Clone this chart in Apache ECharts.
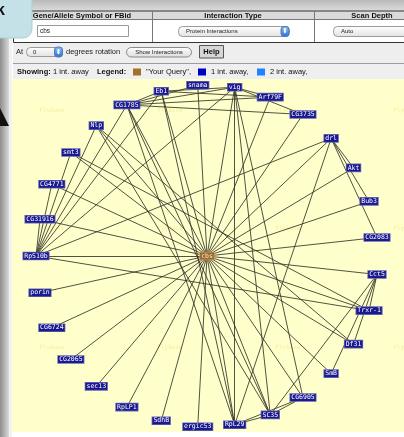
<!DOCTYPE html>
<html>
<head>
<meta charset="utf-8">
<script src="https://cdn.jsdelivr.net/npm/echarts@6/dist/echarts.min.js"></script>
<style>html,body{margin:0;padding:0;background:#fff;}#main{width:404px;height:437px;}</style>
</head>
<body>
<div id="main"></div>
<script>
var queryGene = 'cbs';
// genes 1 int. away, in ring order (counter-clockwise, starting at 9 o'clock)
var ringGenes = ['RpS10b', 'CG31916', 'CG4771', 'smt3', 'Nlp', 'CG1785', 'Eb1', 'snama', 'vig', 'Arf79F',
    'CG3735', 'drl', 'Akt', 'Bub3', 'CG2083', 'Cct5', 'Trxr-1', 'Df31', 'SmB', 'CG6905',
    'SC35', 'RpL29', 'ergic53', 'SdhB', 'RpLP1', 'sec13', 'CG2065', 'CG6724', 'porin'];
// interactions between the neighbours themselves
var extraLinks = [
    ['RpS10b', 'CG31916'], ['RpS10b', 'CG4771'], ['RpS10b', 'smt3'], ['RpS10b', 'Nlp'], ['RpS10b', 'CG1785'],
    ['RpS10b', 'Eb1'], ['RpS10b', 'vig'], ['RpS10b', 'drl'], ['RpS10b', 'Trxr-1'],
    ['CG1785', 'Eb1'], ['CG1785', 'snama'], ['CG1785', 'vig'], ['CG1785', 'Arf79F'], ['CG1785', 'CG3735'],
    ['CG1785', 'RpL29'], ['CG1785', 'SC35'],
    ['Eb1', 'vig'], ['Eb1', 'Arf79F'], ['Eb1', 'RpL29'],
    ['vig', 'Arf79F'], ['vig', 'CG3735'], ['vig', 'RpL29'], ['vig', 'SC35'], ['vig', 'CG6905'],
    ['drl', 'Akt'], ['drl', 'Bub3'], ['drl', 'CG2083'], ['drl', 'RpL29'],
    ['Nlp', 'Df31'], ['Nlp', 'SC35'], ['smt3', 'Trxr-1'],
    ['Cct5', 'Trxr-1'], ['Cct5', 'Df31'], ['Cct5', 'SmB'], ['Cct5', 'SC35'],
    ['RpL29', 'SC35'], ['RpL29', 'CG6905'], ['SC35', 'CG6905']
];
var headerCols = ['Gene/Allele Symbol or FBid', 'Interaction Type', 'Scan Depth'];
var legendLabels = ['"Your Query",', '1 int. away,', '2 int. away,'];
var legendColors = ['#a4702e', '#0000c4', '#1f82ff'];

var chartDom = document.getElementById('main');
var myChart = echarts.init(chartDom);

var step = 360 / ringGenes.length;
var nodes = [{
    name: queryGene,
    value: [0, 0],
    label: { backgroundColor: '#9a672c', color: '#fbeac8', borderColor: '#c8a060' }
}];
ringGenes.forEach(function (g, i) {
    nodes.push({ name: g, value: [1, 180 - i * step] });
});
var links = [];
ringGenes.forEach(function (g) {
    links.push({ source: queryGene, target: g });
});
extraLinks.forEach(function (l) {
    links.push({ source: l[0], target: l[1] });
});

function rect(x, y, w, h, fill, stroke, r) {
    return {
        type: 'rect', shape: { x: x, y: y, width: w, height: h, r: r || 0 },
        style: { fill: fill, stroke: stroke || null, lineWidth: 1 }
    };
}
function text(x, y, s, font, fill, align) {
    return {
        type: 'text', x: x, y: y,
        style: {
            text: s, font: font, fill: fill || '#111',
            textAlign: align || 'left', align: align || 'left',
            textVerticalAlign: 'middle', verticalAlign: 'middle'
        }
    };
}
function spinner(x, y) {
    return [
        rect(x, y, 8, 10, new echarts.graphic.LinearGradient(0, 0, 0, 1, [
            { offset: 0, color: '#8cc0f4' }, { offset: 1, color: '#2a6fd6' }]), '#4a78b8', 3),
        text(x + 4, y + 5, '\u2B0D', '7px "DejaVu Sans"', '#fff', 'center')
    ];
}

var els = [];
// page chrome
els.push(rect(0, 0, 404, 11, new echarts.graphic.LinearGradient(0, 0, 0, 1, [
    { offset: 0, color: '#b9b9b9' }, { offset: 1, color: '#dcdcdc' }])));
els.push(rect(0, 0, 9, 437, new echarts.graphic.LinearGradient(0, 0, 1, 0, [
    { offset: 0, color: '#8c8c8c' }, { offset: 1, color: '#dadada' }])));
els.push(rect(9, 0, 3, 437, '#f2f2f2'));
// form table
els.push(rect(13, 11, 391, 9, '#dadada'));
els.push(rect(13, 20, 391, 22, '#ffffff'));
els.push({ type: 'polyline', shape: { points: [[404, 11], [13.5, 11], [13.5, 42.5], [404, 42.5]] }, style: { stroke: '#333', lineWidth: 1, fill: null } });
els.push({ type: 'line', shape: { x1: 13, y1: 19.5, x2: 404, y2: 19.5 }, style: { stroke: '#777', lineWidth: 1 } });
els.push({ type: 'line', shape: { x1: 152.5, y1: 11, x2: 152.5, y2: 42 }, style: { stroke: '#777', lineWidth: 1 } });
els.push({ type: 'line', shape: { x1: 314.5, y1: 11, x2: 314.5, y2: 42 }, style: { stroke: '#777', lineWidth: 1 } });
els.push(text(82, 15.5, headerCols[0], 'bold 7.5px "Liberation Sans"', '#111', 'center'));
els.push(text(233, 15.5, headerCols[1], 'bold 7.5px "Liberation Sans"', '#111', 'center'));
els.push(text(372, 15.5, headerCols[2], 'bold 7.5px "Liberation Sans"', '#111', 'center'));
els.push(rect(37.5, 25.5, 91, 11, '#fff', '#9a9a9a'));
els.push(text(40, 31, queryGene, '6.5px "Liberation Sans"', '#222'));
els.push(rect(178.5, 26.5, 111, 10, new echarts.graphic.LinearGradient(0, 0, 0, 1, [
    { offset: 0, color: '#ffffff' }, { offset: 1, color: '#e2e2e2' }]), '#9a9a9a', 4));
els.push(text(186, 31.5, 'Protein Interactions', '6px "Liberation Sans"', '#222'));
els = els.concat(spinner(281, 26.5));
els.push(rect(333.5, 26.5, 80, 10, new echarts.graphic.LinearGradient(0, 0, 0, 1, [
    { offset: 0, color: '#ffffff' }, { offset: 1, color: '#e2e2e2' }]), '#9a9a9a', 4));
els.push(text(341, 31.5, 'Auto', '6px "Liberation Sans"', '#222'));
// rotation row
els.push(rect(13, 43, 391, 20, '#eeeeee'));
els.push(text(16, 52, 'At', '7.5px "Liberation Sans"', '#222'));
els.push(rect(26.5, 47.5, 36, 9, new echarts.graphic.LinearGradient(0, 0, 0, 1, [
    { offset: 0, color: '#ffffff' }, { offset: 1, color: '#e0e0e0' }]), '#9a9a9a', 4));
els.push(text(33, 52, '0', '6px "Liberation Sans"', '#222'));
els = els.concat(spinner(54.5, 47));
els.push(text(66, 52, 'degrees rotation', '7.5px "Liberation Sans"', '#222'));
els.push(rect(126.5, 47.5, 65, 9.5, new echarts.graphic.LinearGradient(0, 0, 0, 1, [
    { offset: 0, color: '#ffffff' }, { offset: 1, color: '#dcdcdc' }]), '#8a8a8a', 5));
els.push(text(159, 52.5, 'Show Interactions', '6px "Liberation Sans"', '#222', 'center'));
els.push(rect(199.5, 45.5, 24, 12.5, '#d6d6d6', '#555'));
els.push(text(211.5, 52, 'Help', 'bold 7.5px "Liberation Sans"', '#111', 'center'));
// legend row
els.push(rect(13, 63, 391, 16, '#efefef'));
els.push({ type: 'line', shape: { x1: 13, y1: 63.5, x2: 404, y2: 63.5 }, style: { stroke: '#9c9c9c', lineWidth: 1 } });
els.push(text(17, 72, 'Showing:', 'bold 7.5px "Liberation Sans"', '#111'));
els.push(text(53, 72, '1 int. away', '7.5px "Liberation Sans"', '#111'));
els.push(text(97, 72, 'Legend:', 'bold 7.5px "Liberation Sans"', '#111'));
var lx = [133, 198, 257];
legendLabels.forEach(function (s, i) {
    els.push(rect(lx[i], 68.5, 8, 7, legendColors[i]));
    els.push(text(lx[i] + 13, 72, s, '7.5px "Liberation Sans"', '#111'));
});
// network canvas
els.push(rect(12, 79, 392, 353, '#ffffcc'));
[52, 170, 288, 406].forEach(function (x) {
    [110, 228, 347].forEach(function (y) {
        els.push(text(x, y, 'Flybase', '6px "DejaVu Sans Mono"', '#f5ee9c', 'center'));
    });
});
// blue callout & pointer at the top left
els.push(rect(-12, -12, 44, 50, '#c3e1e6', '#a9cfd5', 9));
els.push(text(-4, 11, 'k', 'bold 16px "Liberation Sans"', '#111'));
els.push({ type: 'polygon', shape: { points: [[0, 108], [9, 126], [0, 126]] }, style: { fill: '#111' } });

var option = {
    animation: false,
    graphic: { elements: els },
    polar: { center: [207, 256], radius: 171 },
    radiusAxis: { type: 'value', min: 0, max: 1, show: false },
    angleAxis: { type: 'value', min: 0, max: 360, startAngle: 0, clockwise: false, show: false },
    series: [{
        type: 'graph',
        coordinateSystem: 'polar',
        layout: 'none',
        silent: true,
        z: 5,
        symbol: 'rect',
        symbolSize: 1,
        itemStyle: { color: 'rgba(0,0,0,0)' },
        label: {
            show: true,
            position: 'inside',
            fontFamily: 'DejaVu Sans Mono',
            fontSize: 6.5,
            lineHeight: 6,
            color: '#ffffff',
            backgroundColor: '#1a1a90',
            borderColor: '#6464b4',
            borderWidth: 0.8,
            padding: [1, 1, 0, 1]
        },
        lineStyle: { color: '#333327', width: 0.85, opacity: 1, curveness: 0 },
        emphasis: { disabled: true },
        data: nodes,
        links: links
    }]
};

option && myChart.setOption(option);
</script>
</body>
</html>
